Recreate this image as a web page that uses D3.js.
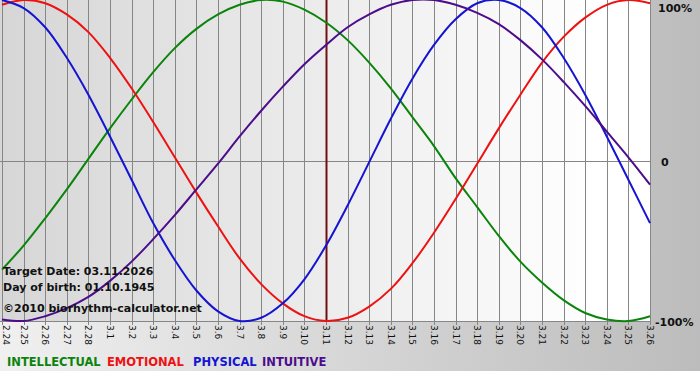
<!DOCTYPE html>
<html>
<head>
<meta charset="utf-8">
<script src="https://cdn.jsdelivr.net/npm/d3@7"></script>
<style>
  body { margin: 0; background: #fff; }
  svg { display: block; font-family: "DejaVu Sans", Verdana, sans-serif; }
</style>
</head>
<body>
<svg id="chart"></svg>
<script>
// day labels along the bottom
const days = ['2.24', '2.25', '2.26', '2.27', '2.28',
  '3.1', '3.2', '3.3', '3.4', '3.5', '3.6', '3.7', '3.8', '3.9', '3.10',
  '3.11', '3.12', '3.13', '3.14', '3.15', '3.16', '3.17', '3.18', '3.19', '3.20',
  '3.21', '3.22', '3.23', '3.24', '3.25', '3.26'];

const targetDay = '3.11';

const intellectual = [-0.68, -0.53, -0.36, -0.18, 0.01, 0.20, 0.38, 0.55, 0.70, 0.82,
  0.91, 0.97, 1.00, 0.99, 0.94, 0.86, 0.75, 0.61, 0.45, 0.27,
  0.09, -0.11, -0.29, -0.47, -0.63, -0.76, -0.87, -0.95, -0.99, -1.00, -0.97];

const emotional = [0.97, 1.00, 0.98, 0.91, 0.80, 0.64, 0.45, 0.24, 0.02, -0.20,
  -0.41, -0.61, -0.77, -0.89, -0.97, -1.00, -0.98, -0.91, -0.80, -0.64,
  -0.45, -0.24, -0.02, 0.20, 0.41, 0.61, 0.77, 0.89, 0.97, 1.00, 0.98];

const physical = [1.00, 0.95, 0.83, 0.64, 0.41, 0.15, -0.12, -0.39, -0.62, -0.81,
  -0.94, -1.00, -0.98, -0.89, -0.74, -0.53, -0.28, -0.01, 0.26, 0.51,
  0.72, 0.88, 0.98, 1.00, 0.95, 0.83, 0.64, 0.41, 0.15, -0.12, -0.39];

const intuitive = [-0.99, -1.00, -0.97, -0.92, -0.85, -0.75, -0.63, -0.49, -0.34, -0.18,
  -0.02, 0.15, 0.31, 0.46, 0.60, 0.72, 0.83, 0.91, 0.97, 1.00,
  1.00, 0.97, 0.92, 0.85, 0.75, 0.63, 0.49, 0.34, 0.18, 0.02, -0.15];

const seriesNames = ['INTELLECTUAL', 'EMOTIONAL', 'PHYSICAL', 'INTUITIVE'];
const seriesColors = ['#0a840a', '#ee1111', '#1414d2', '#4c0c8c'];
const seriesValues = [intellectual, emotional, physical, intuitive];

const infoLines = ['Target Date: 03.11.2026', 'Day of birth: 01.10.1945'];
const copyright = '\u00a92010 biorhythm-calculator.net';
const yLabels = [{ v: 1, t: '100%' }, { v: 0, t: '0' }, { v: -1, t: '-100%' }];

const width = 700;
const height = 380;
const plot = { left: 2, right: 650, top: 0, bottom: 321 };

const svg = d3.select('#chart')
  .attr('width', width)
  .attr('height', height);

const defs = svg.append('defs');

const outerGrad = defs.append('linearGradient').attr('id', 'outer-grad');
outerGrad.append('stop').attr('offset', '0%').attr('stop-color', '#f0f0f0');
outerGrad.append('stop').attr('offset', '100%').attr('stop-color', '#bcbcbc');

const plotGrad = defs.append('linearGradient').attr('id', 'plot-grad');
plotGrad.append('stop').attr('offset', '0%').attr('stop-color', '#d6d6d6');
plotGrad.append('stop').attr('offset', '92%').attr('stop-color', '#ffffff');
plotGrad.append('stop').attr('offset', '100%').attr('stop-color', '#ffffff');

svg.append('rect')
  .attr('width', width)
  .attr('height', 371)
  .attr('fill', 'url(#outer-grad)');

let x = d3.scalePoint()
  .domain(days)
  .range([plot.left, plot.right]);

let y = d3.scaleLinear()
  .domain([-1, 1])
  .range([plot.bottom, plot.top]);

svg.append('rect')
  .attr('x', 0)
  .attr('y', plot.top)
  .attr('width', plot.right + 1)
  .attr('height', plot.bottom - plot.top)
  .attr('fill', 'url(#plot-grad)');

// vertical day grid
svg.append('g')
  .selectAll('line')
  .data(days)
  .enter()
  .append('line')
  .attr('x1', d => Math.round(x(d)) + 0.5)
  .attr('x2', d => Math.round(x(d)) + 0.5)
  .attr('y1', plot.top)
  .attr('y2', plot.bottom + 4)
  .attr('stroke', '#868686')
  .attr('stroke-width', 1);

// zero line and bottom line
[0, -1].forEach(v => {
  svg.append('line')
    .attr('x1', 0)
    .attr('x2', plot.right + 1)
    .attr('y1', Math.round(y(v)) + 0.5)
    .attr('y2', Math.round(y(v)) + 0.5)
    .attr('stroke', '#868686');
});

// target date marker
svg.append('line')
  .attr('x1', x(targetDay) + 0.5)
  .attr('x2', x(targetDay) + 0.5)
  .attr('y1', plot.top)
  .attr('y2', plot.bottom)
  .attr('stroke', '#701010')
  .attr('stroke-width', 2);

const line = d3.line()
  .x((d, i) => x(days[i]))
  .y(d => y(d))
  .curve(d3.curveCatmullRom);

const plotClip = defs.append('clipPath').attr('id', 'plot-clip');
plotClip.append('rect')
  .attr('x', 0)
  .attr('y', -2)
  .attr('width', plot.right + 2)
  .attr('height', plot.bottom + 4);

svg.append('g')
  .attr('clip-path', 'url(#plot-clip)')
  .selectAll('path')
  .data(seriesValues)
  .enter()
  .append('path')
  .attr('d', d => line(d))
  .attr('fill', 'none')
  .attr('stroke', (d, i) => seriesColors[i])
  .attr('stroke-width', 2);

// day labels (rotated)
svg.append('g')
  .selectAll('text')
  .data(days)
  .enter()
  .append('text')
  .attr('transform', d => 'translate(' + Math.max(x(d) - 3, 2.5) + ',' + (plot.bottom + 4) + ') rotate(90)')
  .attr('font-size', '9px')
  .attr('fill', '#111')
  .text(d => d);

// percentage labels on the right
svg.append('g')
  .selectAll('text')
  .data(yLabels)
  .enter()
  .append('text')
  .attr('x', d => d.v === 0 ? 661 : (d.v > 0 ? 658 : 655))
  .attr('y', d => d.v > 0 ? 12 : y(d.v) + 5)
  .attr('font-size', '11px')
  .attr('font-weight', 'bold')
  .attr('fill', '#111')
  .text(d => d.t);

// info text over the plot
let desc = svg.append('g');
infoLines.forEach((t, i) => {
  desc.append('text')
    .attr('x', 3)
    .attr('y', 275 + i * 16)
    .attr('font-size', '11px')
    .attr('font-weight', 'bold')
    .attr('fill', '#111')
    .text(t);
});
desc.append('text')
  .attr('x', 3)
  .attr('y', 312)
  .attr('font-size', '11px')
  .attr('font-weight', 'bold')
  .attr('fill', '#111')
  .text(copyright);

// legend
const legendStart = [7, 107, 193, 262];
svg.append('g')
  .selectAll('text')
  .data(seriesNames)
  .enter()
  .append('text')
  .attr('x', (d, i) => legendStart[i])
  .attr('y', 366)
  .attr('font-size', '11.5px')
  .attr('font-weight', 'bold')
  .attr('fill', (d, i) => seriesColors[i])
  .text(d => d);
</script>
</body>
</html>
